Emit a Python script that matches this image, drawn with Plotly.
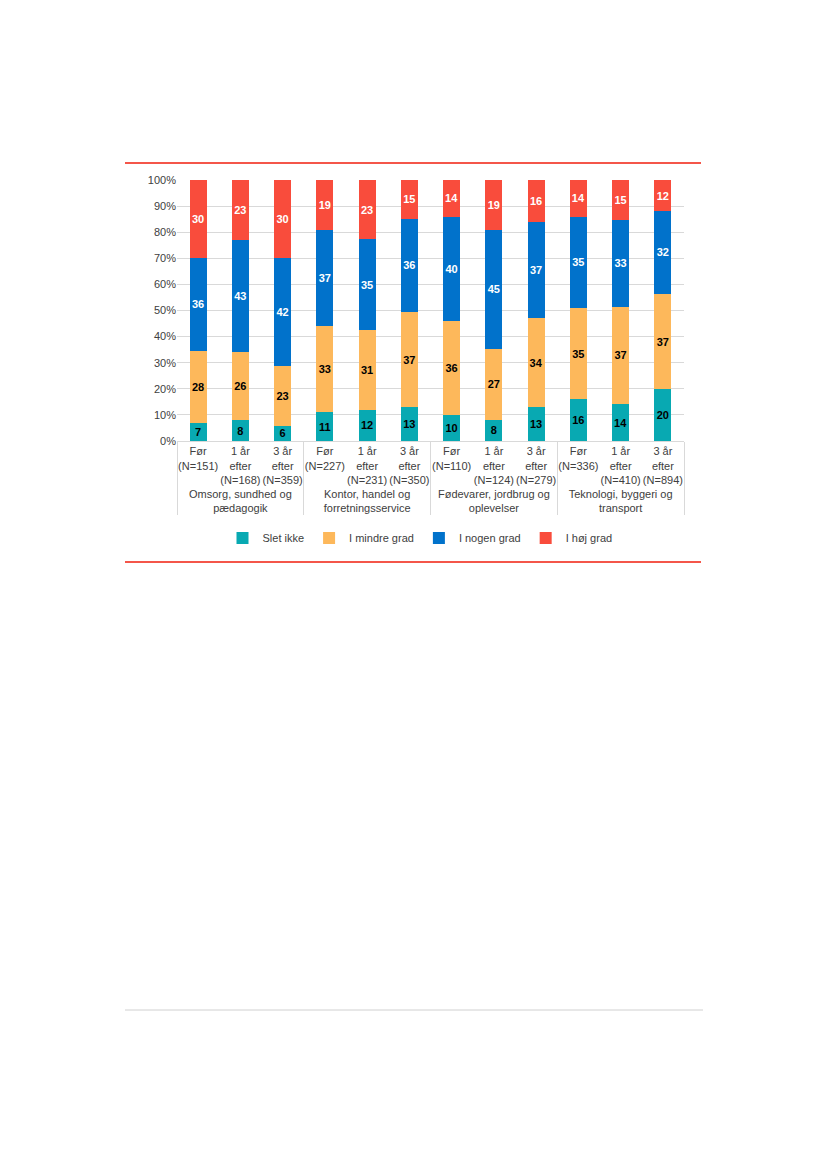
import plotly.graph_objects as go

groups = ["Omsorg, sundhed og<br>pædagogik", "Kontor, handel og<br>forretningsservice",
          "Fødevarer, jordbrug og<br>oplevelser", "Teknologi, byggeri og<br>transport"]
periods = [["Før<br>(N=151)", "1 år<br>efter<br>(N=168)", "3 år<br>efter<br>(N=359)"],
           ["Før<br>(N=227)", "1 år<br>efter<br>(N=231)", "3 år<br>efter<br>(N=350)"],
           ["Før<br>(N=110)", "1 år<br>efter<br>(N=124)", "3 år<br>efter<br>(N=279)"],
           ["Før<br>(N=336)", "1 år<br>efter<br>(N=410)", "3 år<br>efter<br>(N=894)"]]

slet_ikke = [7, 8, 6, 11, 12, 13, 10, 8, 13, 16, 14, 20]
i_mindre_grad = [28, 26, 23, 33, 31, 37, 36, 27, 34, 35, 37, 37]
i_nogen_grad = [36, 43, 42, 37, 35, 36, 40, 45, 37, 35, 33, 32]
i_hoej_grad = [30, 23, 30, 19, 23, 15, 14, 19, 16, 14, 15, 12]

series = [("Slet ikke", slet_ikke, "#08A9B2", "#000000"),
          ("I mindre grad", i_mindre_grad, "#FDB85B", "#000000"),
          ("I nogen grad", i_nogen_grad, "#0172CB", "#FFFFFF"),
          ("I høj grad", i_hoej_grad, "#F94C3C", "#FFFFFF")]

outer = [g for g, ps in zip(groups, periods) for _ in ps]
inner = [p for ps in periods for p in ps]

fig = go.Figure()
for name, vals, color, tcol in series:
    fig.add_trace(go.Bar(
        x=[outer, inner], y=vals, name=name,
        marker=dict(color=color, line=dict(width=0)),
        text=[str(v) for v in vals], textposition="inside",
        insidetextanchor="middle", textangle=0,
        textfont=dict(family="Liberation Sans", size=11, color=tcol, weight="bold"),
        constraintext="none",
    ))

OFF = 8  # page body margin
W, H = 827 - OFF, 1169 - OFF
L, R, T, B = 177 - OFF, 684 - OFF, 180 - OFF, 441 - OFF
ph = B - T
pw = R - L

def px_y(y):
    return (B - (y - OFF)) / ph

def px_x(x):
    return ((x - OFF) - L) / pw

fig.update_layout(
    width=W, height=H,
    margin=dict(l=L, r=W - R, t=T, b=H - B, pad=0),
    barmode="stack", barnorm="percent", bargap=0.6,
    paper_bgcolor="white", plot_bgcolor="white",
    font=dict(family="Liberation Sans", size=11, color="#404040"),
    showlegend=True,
    legend=dict(orientation="h", x=px_x(420), xanchor="center", y=px_y(538), yanchor="middle",
                font=dict(size=11, color="#404040"), traceorder="normal",
                itemwidth=30, itemsizing="constant", tracegroupgap=0),
    xaxis=dict(type="multicategory", showline=True, linecolor="#D9D9D9", linewidth=1,
               showdividers=True, dividercolor="#D9D9D9", dividerwidth=1,
               tickangle=0, tickfont=dict(size=11, color="#404040"), ticks=""),
    yaxis=dict(range=[0, 100], dtick=10, ticksuffix="%", showgrid=True,
               gridcolor="#D9D9D9", gridwidth=1, zeroline=False, showline=False,
               tickfont=dict(size=11, color="#404040"), ticks="", fixedrange=True),
    shapes=[
        dict(type="line", xref="paper", yref="paper", x0=px_x(125), x1=px_x(701),
             y0=px_y(163), y1=px_y(163), line=dict(color="#F4564A", width=2)),
        dict(type="line", xref="paper", yref="paper", x0=px_x(125), x1=px_x(701),
             y0=px_y(562), y1=px_y(562), line=dict(color="#F4564A", width=2)),
        dict(type="line", xref="paper", yref="paper", x0=px_x(125), x1=px_x(703),
             y0=px_y(1010), y1=px_y(1010), line=dict(color="#D0D0D0", width=1)),
    ],
)

fig.write_html("out.html")
